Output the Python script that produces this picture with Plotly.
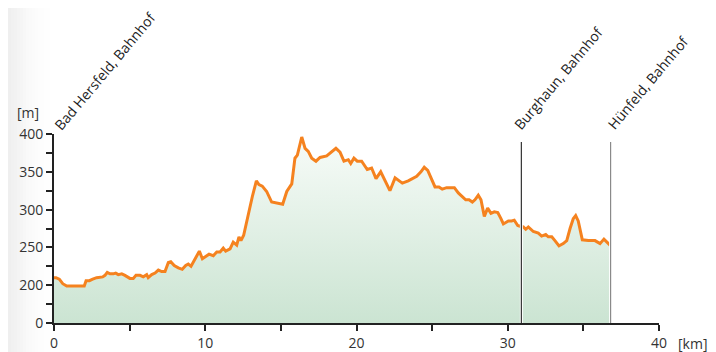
import plotly.graph_objects as go

# ---- data ----
km = [0.0, 0.13, 0.35, 0.58, 0.84, 1.39, 2.00, 2.12, 2.34, 2.56,
      2.82, 3.22, 3.37, 3.52, 3.70, 3.92, 4.08, 4.25, 4.48, 4.69,
      5.02, 5.24, 5.42, 5.69, 5.90, 6.13, 6.23, 6.46, 6.68, 6.90,
      7.12, 7.34, 7.56, 7.72, 7.95, 8.22, 8.48, 8.71, 8.88, 9.06,
      9.32, 9.61, 9.81, 10.03, 10.25, 10.53, 10.76, 10.98, 11.19, 11.35,
      11.64, 11.85, 12.08, 12.23, 12.36, 12.54, 12.85, 13.11, 13.38, 13.55,
      13.77, 14.06, 14.39, 14.72, 15.05, 15.12, 15.39, 15.72, 15.93, 16.09,
      16.38, 16.60, 16.81, 17.04, 17.32, 17.59, 18.03, 18.36, 18.64, 18.91,
      19.17, 19.46, 19.62, 19.83, 20.05, 20.34, 20.71, 21.00, 21.29, 21.60,
      22.21, 22.55, 22.76, 23.03, 23.42, 23.98, 24.26, 24.48, 24.71, 24.93,
      25.19, 25.45, 25.67, 25.96, 26.47, 26.73, 27.06, 27.22, 27.44, 27.66,
      27.83, 28.05, 28.23, 28.45, 28.67, 28.89, 29.11, 29.34, 29.55, 29.71,
      30.04, 30.26, 30.43, 30.66, 30.81, 31.03, 31.19, 31.36, 31.69, 32.02,
      32.24, 32.51, 32.68, 32.91, 33.12, 33.39, 33.67, 33.90, 34.12, 34.33,
      34.49, 34.66, 34.93, 35.33, 35.77, 36.10, 36.36, 36.54, 36.76]

elevation = [210, 210, 208, 202, 199, 199, 199, 206, 206, 208,
             210, 211, 213, 217, 215, 215, 216, 214, 215, 213,
             209, 209, 213, 213, 211, 214, 210, 214, 216, 220,
             218, 218, 230, 231, 226, 223, 221, 226, 228, 225,
             235, 245, 235, 238, 241, 239, 244, 244, 249, 245,
             248, 257, 253, 264, 259, 266, 295, 317, 338, 333,
             331, 324, 310, 309, 308, 307, 324, 334, 368, 372,
             396, 381, 377, 368, 364, 369, 371, 376, 381, 376,
             364, 366, 361, 368, 364, 364, 353, 355, 341, 350,
             325, 342, 339, 335, 338, 344, 350, 356, 352, 342,
             330, 330, 327, 329, 329, 322, 315, 313, 313, 310,
             313, 319, 313, 291, 302, 295, 297, 296, 288, 281,
             285, 285, 286, 279, 278, 277, 274, 277, 271, 269,
             265, 267, 264, 264, 259, 252, 255, 259, 275, 288,
             292, 285, 260, 259, 259, 255, 261, 257, 253]

station_names = ["Bad Hersfeld, Bahnhof", "Burghaun, Bahnhof", "Hünfeld, Bahnhof"]
station_km = [0.0, 30.9, 36.8]

y_tickvals = [150, 200, 250, 300, 350, 400]
y_ticktext = ["0", "200", "250", "300", "350", "400"]
x_tickvals = [0, 10, 20, 30, 40]

FONT = "Open Sans, Segoe UI, sans-serif"
AXIS = "#222222"

# the page body adds an 8 px offset, so the figure is sized to fit the window
W, H = 708, 344
ML, MR, MT, MB = 46, 57, 126, 29
PW, PH = W - ML - MR, H - MT - MB

fig = go.Figure()
fig.add_trace(go.Scatter(
    x=km, y=elevation, mode="lines",
    line=dict(color="#f5821f", width=3, shape="linear"),
    fill="tozeroy",
    fillgradient=dict(type="vertical", start=150, stop=400,
                      colorscale=[[0, "#cbe4d2"], [1, "#f8fcf9"]]),
    hoverinfo="skip", showlegend=False,
))

shapes = []
# soft grey shade at the left page edge
n = 14
for i in range(n):
    shapes.append(dict(type="rect", xref="paper", yref="paper",
                       x0=(i * 3 - ML) / PW, x1=((i + 1) * 3 - ML) / PW,
                       y0=-MB / PH, y1=1 + MT / PH,
                       fillcolor="rgba(120,120,120,%.3f)" % (0.12 * (1 - i / n) ** 1.6),
                       line=dict(width=0), layer="below"))
# station marker lines
line_cols = {1: "#333333", 2: "#8a8a8a"}
top = (323 - 142) / PH
for i in (1, 2):
    shapes.append(dict(type="line", xref="x", yref="paper",
                       x0=station_km[i], x1=station_km[i], y0=0, y1=top,
                       line=dict(color="white", width=3), layer="above"))
    shapes.append(dict(type="line", xref="x", yref="paper",
                       x0=station_km[i], x1=station_km[i], y0=0, y1=top,
                       line=dict(color=line_cols[i], width=1.2), layer="above"))

annotations = []
shifts = [5, -2, 2]
for name, k, sh in zip(station_names, station_km, shifts):
    annotations.append(dict(text=name, x=k, y=1, xref="x", yref="paper",
                            xanchor="left", yanchor="bottom", textangle=-50,
                            showarrow=False, xshift=sh - 12, yshift=-2,
                            font=dict(family=FONT, size=14, color="#222")))
annotations.append(dict(text="[m]", x=0, y=1, xref="paper", yref="paper",
                        xanchor="right", yanchor="bottom", xshift=-13, yshift=10,
                        showarrow=False, font=dict(family=FONT, size=14, color="#333")))
annotations.append(dict(text="[km]", x=1, y=0, xref="paper", yref="paper",
                        xanchor="left", yanchor="top", xshift=17, yshift=-9,
                        showarrow=False, font=dict(family=FONT, size=14, color="#333")))

fig.update_layout(
    width=W, height=H,
    margin=dict(l=ML, r=MR, t=MT, b=MB, pad=0, autoexpand=False),
    paper_bgcolor="white", plot_bgcolor="rgba(0,0,0,0)",
    font=dict(family=FONT, size=14, color="#333"),
    shapes=shapes, annotations=annotations,
    xaxis=dict(range=[0, 40], tickvals=x_tickvals, showgrid=False, zeroline=False,
               showline=True, linecolor=AXIS, linewidth=2, automargin=False,
               ticks="outside", ticklen=6, tickwidth=2, tickcolor=AXIS,
               minor=dict(tick0=0, dtick=5, ticks="outside", ticklen=6, tickwidth=2, tickcolor=AXIS),
               tickfont=dict(family=FONT, size=14, color="#333")),
    yaxis=dict(range=[150, 400], tickvals=y_tickvals, ticktext=y_ticktext,
               showgrid=False, zeroline=False, automargin=False,
               showline=True, linecolor=AXIS, linewidth=2,
               ticks="outside", ticklen=6, tickwidth=2, tickcolor=AXIS,
               minor=dict(tick0=150, dtick=25, ticks="outside", ticklen=6, tickwidth=2, tickcolor=AXIS),
               tickfont=dict(family=FONT, size=14, color="#333")),
)

fig.write_html("out.html")
